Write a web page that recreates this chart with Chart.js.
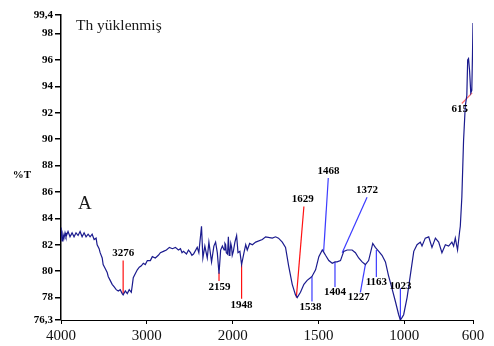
<!DOCTYPE html>
<html>
<head>
<meta charset="utf-8">
<script src="https://cdn.jsdelivr.net/npm/chart.js@4.4.1/dist/chart.umd.min.js"></script>
<style>
  html, body { margin: 0; padding: 0; background: #fff; }
  canvas { display: block; }
</style>
</head>
<body>
<canvas id="ir" width="494" height="346"></canvas>
<script>
// IR spectrum, wavenumber (cm-1) vs %T
const wavenumbers = [
  4000, 3988, 3977, 3965, 3953, 3942, 3918, 3895, 3871, 3848, 3825, 3801, 3778, 3754, 3731, 3708,
  3684, 3661, 3637, 3614, 3591, 3579, 3556, 3544, 3520, 3509, 3485, 3462, 3450, 3427, 3404, 3380,
  3357, 3333, 3310, 3287, 3276, 3251, 3228, 3205, 3181, 3170, 3158, 3135, 3111, 3088, 3064, 3041,
  3018, 2994, 2959, 2936, 2901, 2866, 2842, 2807, 2772, 2737, 2702, 2667, 2632, 2608, 2590, 2573, 2538, 2515,
  2491, 2475, 2456, 2413, 2394, 2363, 2347, 2324, 2296, 2277, 2246, 2219, 2199, 2179, 2159, 2140, 2120, 2100,
  2090, 2082, 2074, 2060, 2050, 2040, 2032, 2022, 2012, 2005, 1996, 1987, 1977, 1969, 1958, 1948, 1934, 1924, 1915,
  1901, 1885, 1866, 1827, 1808, 1769, 1750, 1733, 1711, 1692, 1674, 1653, 1634, 1624, 1605, 1585,
  1566, 1547, 1538, 1517, 1498, 1478, 1468, 1459, 1440, 1420, 1404, 1392, 1372, 1353, 1333, 1304,
  1285, 1266, 1246, 1227, 1208, 1184, 1169, 1149, 1130, 1110, 1093, 1072, 1052, 1033, 1023, 1013,
  1004, 984, 965, 945, 926, 907, 897, 878, 858, 839, 819, 800, 781, 761, 742, 723,
  713, 703, 690, 678, 674, 665, 655, 645, 636, 631, 626, 620, 613, 607, 603, 600
];
const transmittance = [
  83.3, 82.3, 82.8, 82.5, 82.9, 82.6, 83.0, 82.6, 82.9, 82.6, 82.9, 82.7, 83.0, 82.6, 82.9, 82.6,
  82.8, 82.6, 82.8, 82.4, 82.5, 82.0, 81.7, 81.4, 81.0, 80.5, 80.2, 79.9, 79.6, 79.3, 79.0, 78.8,
  78.6, 78.5, 78.6, 78.3, 78.2, 78.5, 78.3, 78.6, 78.4, 78.9, 79.5, 79.8, 80.1, 80.3, 80.4, 80.6,
  80.5, 80.8, 80.8, 81.1, 81.0, 81.2, 81.4, 81.5, 81.6, 81.8, 81.7, 81.8, 81.6, 81.7, 81.4, 81.5, 81.3, 81.6,
  81.4, 81.2, 81.3, 81.8, 81.4, 83.4, 81.0, 81.9, 81.0, 82.2, 80.7, 81.9, 82.2, 81.4, 79.8, 81.6, 81.9, 81.6,
  82.1, 82.0, 81.4, 81.3, 82.6, 81.2, 81.4, 82.1, 81.8, 81.2, 81.5, 82.2, 82.7, 81.4, 81.5, 80.5, 81.4, 82.0, 81.6,
  82.1, 82.0, 82.2, 82.4, 82.6, 82.5, 82.6, 82.5, 82.2, 81.8, 80.4, 79.0, 78.2, 78.0, 78.4, 79.0,
  79.3, 79.5, 79.6, 80.1, 81.1, 81.6, 81.4, 81.2, 80.8, 80.6, 80.7, 80.7, 80.8, 81.5, 81.6, 81.6,
  81.4, 81.0, 80.7, 80.5, 80.8, 82.1, 81.8, 81.5, 81.2, 80.7, 79.7, 78.7, 77.7, 76.7, 76.3, 76.5,
  76.7, 78.0, 79.7, 81.5, 82.0, 82.2, 81.9, 82.5, 82.6, 81.8, 82.5, 82.2, 81.4, 82.0, 81.9, 82.2,
  81.9, 82.5, 81.6, 83.0, 83.4, 85.6, 89.9, 92.5, 93.3, 96.0, 96.1, 95.2, 93.5, 93.7, 96.4, 98.8
];

const xTickValues = [4000, 3000, 2000, 1500, 1000, 600];
const yTickValues = [76.3, 78, 80, 82, 84, 86, 88, 90, 92, 94, 96, 98, 99.4];

// peak marks: label, line start (wn, %T), line end (wn, %T), text position (wn, %T)
const peakLabels = ['3276', '2159', '1948', '1629', '1538', '1468', '1404', '1372', '1227', '1163', '1023', '615'];
const peakFrom = [[3276, 78.25], [2159, 79.9], [1948, 80.5], [1629, 78.0], [1538, 79.6], [1470, 81.5],
                  [1404, 80.7], [1362, 81.4], [1227, 80.5], [1163, 81.6], [1023, 76.3], [665, 92.7]];
const peakTo = [[3276, 80.8], [2159, 79.25], [1948, 77.9], [1585, 84.9], [1538, 77.7], [1443, 87.05],
                [1404, 78.8], [1217, 85.6], [1256, 78.4], [1163, 79.55], [1023, 78.7], [605, 93.5]];
const peakText = [[3276, 81.35], [2153, 78.8], [1948, 77.45], [1592, 85.45], [1547, 77.25], [1442, 87.6],
                  [1404, 78.4], [1217, 86.1], [1266, 78.0], [1163, 79.2], [1023, 78.85], [677, 92.3]];
const peakKind = ['red', 'red', 'red', 'red', 'blue', 'blue', 'blue', 'blue', 'blue', 'blue', 'blue', 'pink'];

// x axis is scaled twice as wide below 2000 cm-1
function toAxis(wn) {
  return wn >= 2000 ? 4000 - wn : 2000 + (2000 - wn) * 2;
}
function fromAxis(t) {
  return t <= 2000 ? 4000 - t : 2000 - (t - 2000) / 2;
}

const markColors = { red: '#ff1010', blue: '#3c3cff', pink: '#ff6a6a' };

const datasets = peakLabels.map((lbl, i) => ({
  data: [
    { x: toAxis(peakFrom[i][0]), y: peakFrom[i][1] },
    { x: toAxis(peakTo[i][0]), y: peakTo[i][1] }
  ],
  borderColor: markColors[peakKind[i]],
  borderWidth: 1.2,
  pointRadius: 0,
  tension: 0
}));
datasets.unshift({
  data: wavenumbers.map((wn, i) => ({ x: toAxis(wn), y: transmittance[i] })),
  borderColor: '#1b1b8e',
  borderWidth: 1.2,
  pointRadius: 0,
  tension: 0
});

const textPlugin = {
  id: 'texts',
  afterDatasetsDraw(chart) {
    const ctx = chart.ctx;
    const xs = chart.scales.x, ys = chart.scales.y;
    ctx.save();
    ctx.fillStyle = '#000';
    ctx.textAlign = 'center';
    ctx.textBaseline = 'middle';
    ctx.font = 'bold 11px "Liberation Serif"';
    peakLabels.forEach((lbl, i) => {
      ctx.fillText(lbl, xs.getPixelForValue(toAxis(peakText[i][0])), ys.getPixelForValue(peakText[i][1]));
    });
    ctx.fillText('%T', 22, 175);

    ctx.textAlign = 'left';
    ctx.textBaseline = 'alphabetic';
    ctx.fillStyle = '#1a1a1a';
    ctx.font = '15.5px "Liberation Serif"';
    ctx.fillText('Th yüklenmiş', 76, 30);
    ctx.font = '19px "Liberation Serif"';
    ctx.fillText('A', 78, 209);
    ctx.restore();
  }
};

new Chart(document.getElementById('ir'), {
  type: 'line',
  data: { datasets },
  plugins: [textPlugin],
  options: {
    responsive: false,
    animation: false,
    parsing: false,
    layout: { padding: { left: 0, right: 21, top: 15, bottom: 0 } },
    plugins: { legend: { display: false }, tooltip: { enabled: false } },
    scales: {
      x: {
        type: 'linear',
        min: 0,
        max: toAxis(600),
        afterBuildTicks: (s) => { s.ticks = xTickValues.map((v) => ({ value: toAxis(v) })); },
        afterFit: (s) => { s.height = 26; },
        grid: { display: true, drawOnChartArea: false, drawTicks: true, tickLength: 4, color: '#000' },
        border: { display: true, color: '#000', width: 1 },
        ticks: {
          autoSkip: false,
          maxRotation: 0,
          padding: 3,
          color: '#111',
          font: { family: 'Liberation Serif', size: 15 },
          callback: (v) => String(fromAxis(v))
        }
      },
      y: {
        type: 'linear',
        min: 76.3,
        max: 99.4,
        afterBuildTicks: (s) => { s.ticks = yTickValues.map((v) => ({ value: v })); },
        afterFit: (s) => { s.width = 61; },
        grid: { display: true, drawOnChartArea: false, drawTicks: true, tickLength: 6, color: '#000', lineWidth: 1.5 },
        border: { display: true, color: '#000', width: 1.5 },
        ticks: {
          autoSkip: false,
          padding: 2,
          color: '#000',
          font: { family: 'Liberation Serif', size: 11, weight: 'bold' },
          callback: (v) => String(v).replace('.', ',')
        }
      }
    }
  }
});
</script>
</body>
</html>
